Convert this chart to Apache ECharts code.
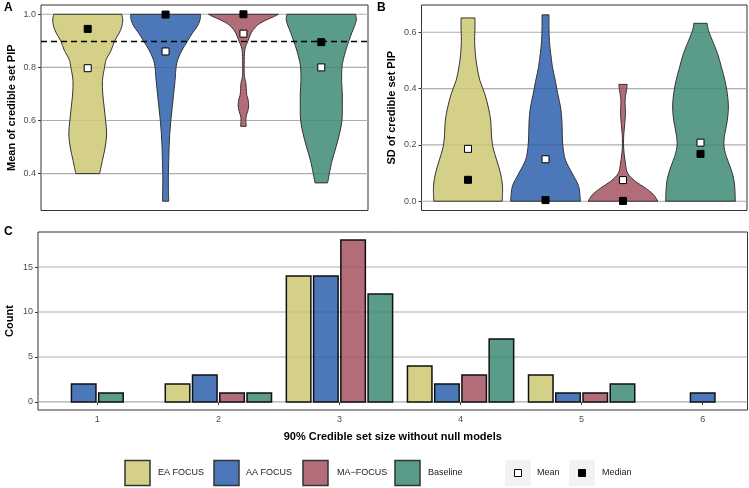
<!DOCTYPE html>
<html><head><meta charset="utf-8">
<script src="https://cdn.jsdelivr.net/npm/echarts@6/dist/echarts.min.js"></script>
<style>html,body{margin:0;padding:0;background:#fff}#c{width:749px;height:488px}</style>
</head><body><div id="c"></div>
<script>
// ---------- shared ----------
const methods = ['EA FOCUS', 'AA FOCUS', 'MA\u2212FOCUS', 'Baseline'];
const fills = ['rgba(206,200,115,0.85)', 'rgba(45,96,174,0.85)', 'rgba(164,84,98,0.85)', 'rgba(62,137,117,0.85)'];

// ---------- Panel A: mean of credible set PIP ----------
const ticksA = [0.4, 0.6, 0.8, 1.0];
const meanA = [0.797, 0.86, 0.927, 0.8];
const medianA = [0.945, 0.999, 1.0, 0.895];
const thresholdA = 0.9;
// violin outlines: y values and relative half-widths (1 = full violin width)
const vA_EA_y = [1.0, 0.978, 0.953, 0.93, 0.9, 0.865, 0.83, 0.8, 0.75, 0.7, 0.65, 0.6, 0.55, 0.5, 0.45, 0.4];
const vA_EA_w = [0.97, 1.0, 0.97, 0.9, 0.77, 0.67, 0.53, 0.48, 0.42, 0.43, 0.47, 0.51, 0.54, 0.5, 0.42, 0.34];
const vA_AA_y = [1.0, 0.978, 0.953, 0.93, 0.9, 0.865, 0.83, 0.8, 0.75, 0.7, 0.65, 0.6, 0.55, 0.5, 0.45, 0.4, 0.35, 0.296];
const vA_AA_w = [1.0, 0.98, 0.9, 0.77, 0.63, 0.47, 0.35, 0.3, 0.27, 0.23, 0.19, 0.15, 0.12, 0.1, 0.09, 0.08, 0.08, 0.09];
const vA_MA_y = [1.0, 0.99, 0.978, 0.965, 0.953, 0.93, 0.9, 0.878, 0.853, 0.8, 0.765, 0.74, 0.7, 0.68, 0.655, 0.634, 0.61, 0.578];
const vA_MA_w = [1.0, 0.85, 0.64, 0.46, 0.35, 0.22, 0.13, 0.06, 0.03, 0.02, 0.03, 0.07, 0.09, 0.13, 0.15, 0.12, 0.07, 0.08];
const vA_BL_y = [1.0, 0.978, 0.953, 0.93, 0.9, 0.865, 0.83, 0.8, 0.75, 0.7, 0.65, 0.6, 0.55, 0.5, 0.45, 0.4, 0.365];
const vA_BL_w = [0.98, 1.0, 0.94, 0.87, 0.79, 0.7, 0.63, 0.59, 0.58, 0.6, 0.6, 0.59, 0.52, 0.42, 0.31, 0.23, 0.18];

// ---------- Panel B: SD of credible set PIP ----------
const ticksB = [0.0, 0.2, 0.4, 0.6];
const meanB = [0.186, 0.149, 0.075, 0.208];
const medianB = [0.076, 0.004, 0.001, 0.168];
const vB_EA_y = [0.651, 0.618, 0.571, 0.524, 0.476, 0.429, 0.382, 0.335, 0.288, 0.241, 0.194, 0.147, 0.1, 0.053, 0.0];
const vB_EA_w = [0.2, 0.2, 0.19, 0.21, 0.26, 0.34, 0.48, 0.58, 0.65, 0.67, 0.71, 0.82, 0.93, 0.99, 0.98];
const vB_AA_y = [0.662, 0.618, 0.571, 0.524, 0.476, 0.429, 0.382, 0.335, 0.288, 0.241, 0.194, 0.147, 0.1, 0.053, 0.0];
const vB_AA_w = [0.1, 0.1, 0.11, 0.15, 0.2, 0.28, 0.35, 0.43, 0.47, 0.48, 0.5, 0.57, 0.76, 0.95, 1.0];
const vB_MA_y = [0.415, 0.394, 0.359, 0.312, 0.276, 0.241, 0.206, 0.171, 0.135, 0.1, 0.071, 0.047, 0.024, 0.0];
const vB_MA_w = [0.12, 0.1, 0.06, 0.07, 0.05, 0.025, 0.015, 0.03, 0.07, 0.13, 0.35, 0.64, 0.87, 1.0];
const vB_BL_y = [0.632, 0.606, 0.571, 0.524, 0.476, 0.429, 0.382, 0.335, 0.288, 0.241, 0.2, 0.159, 0.112, 0.065, 0.0];
const vB_BL_w = [0.19, 0.23, 0.34, 0.49, 0.6, 0.7, 0.77, 0.8, 0.77, 0.7, 0.67, 0.74, 0.88, 0.97, 1.0];

// ---------- Panel C: credible set size counts ----------
const sizes = [1, 2, 3, 4, 5, 6];
const countEA = [0, 2, 14, 4, 3, 0];
const countAA = [2, 3, 14, 2, 1, 1];
const countMA = [0, 1, 18, 3, 1, 0];
const countBL = [1, 1, 12, 7, 2, 0];
const ticksC = [0, 5, 10, 15];

// ---------- helpers ----------
const FONT = 'Liberation Sans, Arial, sans-serif';
const GRIDCOL = '#adadad';

function gridLines(gi, ticks, xref) {
  return {
    type: 'custom', xAxisIndex: gi, yAxisIndex: gi, z: 1, silent: true,
    data: ticks.map(t => [xref, t]), encode: { x: 0, y: 1 },
    renderItem(params, api) {
      const cs = params.coordSys;
      const y = api.coord([api.value(0), api.value(1)])[1];
      return { type: 'line', shape: { x1: cs.x, y1: y, x2: cs.x + cs.width, y2: y },
        style: { stroke: GRIDCOL, lineWidth: 1.1 } };
    }
  };
}
// smooth curve through pixel points (Catmull-Rom -> cubic bezier), used only for drawing the outline
function curve(pts) {
  let d = '';
  for (let i = 0; i < pts.length - 1; i++) {
    const p0 = pts[Math.max(0, i - 1)], p1 = pts[i], p2 = pts[i + 1], p3 = pts[Math.min(pts.length - 1, i + 2)];
    const c1 = [p1[0] + (p2[0] - p0[0]) / 6, p1[1] + (p2[1] - p0[1]) / 6];
    const c2 = [p2[0] - (p3[0] - p1[0]) / 6, p2[1] - (p3[1] - p1[1]) / 6];
    d += ' C' + c1[0].toFixed(2) + ',' + c1[1].toFixed(2) + ' ' + c2[0].toFixed(2) + ',' + c2[1].toFixed(2) + ' ' + p2[0].toFixed(2) + ',' + p2[1].toFixed(2);
  }
  return d;
}
function violin(gi, idx, ys, ws) {
  return {
    type: 'custom', xAxisIndex: gi, yAxisIndex: gi, z: 3, silent: true,
    data: [[idx + 1, ys[0]]], encode: { x: 0, y: 1 },
    renderItem(params, api) {
      const x = api.value(0);
      const right = ys.map((y, i) => api.coord([x + ws[i] * 0.45, y]));
      const left = ys.map((y, i) => api.coord([x - ws[i] * 0.45, y])).reverse();
      const d = 'M' + right[0][0].toFixed(2) + ',' + right[0][1].toFixed(2) + curve(right) +
        ' L' + left[0][0].toFixed(2) + ',' + left[0][1].toFixed(2) + curve(left) + ' Z';
      return { type: 'path', shape: { pathData: d },
        style: { fill: fills[idx], stroke: '#333', lineWidth: 1 } };
    }
  };
}
function markers(gi, vals, fill, extra) {
  const s = {
    type: 'scatter', xAxisIndex: gi, yAxisIndex: gi, z: 6, silent: true,
    symbol: 'rect', symbolSize: 7,
    itemStyle: { color: fill, borderColor: '#000', borderWidth: 1, opacity: 1 },
    data: vals.map((v, i) => [i + 1, v])
  };
  return Object.assign(s, extra || {});
}
function yAxisCfg(gi, min, max, ticks, name, gap, fmt) {
  return {
    gridIndex: gi, type: 'value', min, max,
    axisLine: { show: false },
    axisTick: { show: true, customValues: ticks, length: 3, lineStyle: { color: '#333', width: 1 } },
    axisLabel: { customValues: ticks, formatter: fmt, fontSize: 9, color: '#4d4d4d', margin: 5, fontFamily: FONT },
    splitLine: { show: false },
    name, nameLocation: 'middle', nameGap: gap, nameMoveOverlap: false,
    nameTextStyle: { fontWeight: 'bold', fontSize: 11, color: '#000', fontFamily: FONT }
  };
}
const hiddenX = (gi) => ({ gridIndex: gi, type: 'value', min: 0.4, max: 4.6,
  axisLine: { show: false }, axisTick: { show: false }, axisLabel: { show: false }, splitLine: { show: false } });

// bars: dodge among present groups (centered)
const counts = [countEA, countAA, countMA, countBL];
const barData = [];
sizes.forEach((s, i) => {
  const present = [];
  counts.forEach((c, m) => { if (c[i] > 0) present.push(m); });
  present.forEach((m, k) => barData.push([s, counts[m][i], k, present.length, m]));
});

const gridStyle = { show: true, borderColor: '#333', borderWidth: 1, backgroundColor: 'transparent',
  containLabel: false, outerBoundsMode: 'none' };

const option = {
  animation: false,
  textStyle: { fontFamily: FONT },
  grid: [
    Object.assign({ left: 41, top: 5, width: 327, height: 205.5 }, gridStyle),
    Object.assign({ left: 421.5, top: 5, width: 325.5, height: 205.5 }, gridStyle),
    Object.assign({ left: 38, top: 232, width: 709.5, height: 178 }, gridStyle)
  ],
  xAxis: [
    hiddenX(0), hiddenX(1),
    { gridIndex: 2, type: 'value', min: 0.51, max: 6.37,
      axisLine: { show: false },
      axisTick: { show: true, customValues: sizes, length: 3, lineStyle: { color: '#333' } },
      axisLabel: { customValues: sizes, fontSize: 9, color: '#4d4d4d', margin: 5, fontFamily: FONT },
      splitLine: { show: false },
      name: '90% Credible set size without null models', nameLocation: 'middle', nameGap: 21,
      nameMoveOverlap: false,
      nameTextStyle: { fontWeight: 'bold', fontSize: 11, color: '#000', fontFamily: FONT } }
  ],
  yAxis: [
    yAxisCfg(0, 0.261, 1.035, ticksA, 'Mean of credible set PIP', 24, v => v.toFixed(1)),
    yAxisCfg(1, -0.033, 0.697, ticksB, 'SD of credible set PIP', 24, v => v.toFixed(1)),
    yAxisCfg(2, -0.9, 18.9, ticksC, 'Count', 23, v => String(v))
  ],
  series: [
    gridLines(0, ticksA, 1), gridLines(1, ticksB, 1), gridLines(2, ticksC, 1),
    violin(0, 0, vA_EA_y, vA_EA_w), violin(0, 1, vA_AA_y, vA_AA_w),
    violin(0, 2, vA_MA_y, vA_MA_w), violin(0, 3, vA_BL_y, vA_BL_w),
    violin(1, 0, vB_EA_y, vB_EA_w), violin(1, 1, vB_AA_y, vB_AA_w),
    violin(1, 2, vB_MA_y, vB_MA_w), violin(1, 3, vB_BL_y, vB_BL_w),
    markers(0, meanA, '#fff', {
      markLine: { silent: true, symbol: 'none', label: { show: false },
        lineStyle: { type: [6, 4], color: '#000', width: 1.3 }, data: [{ yAxis: thresholdA }] }
    }),
    markers(0, medianA, '#000'),
    markers(1, meanB, '#fff'),
    markers(1, medianB, '#000'),
    {
      type: 'custom', xAxisIndex: 2, yAxisIndex: 2, z: 3, silent: true,
      data: barData, encode: { x: 0, y: 1 },
      renderItem(params, api) {
        const x = api.value(0), c = api.value(1), k = api.value(2), n = api.value(3), m = api.value(4);
        const cx = x + (k - (n - 1) / 2) * 0.225;
        const p0 = api.coord([cx - 0.10125, c]);
        const p1 = api.coord([cx + 0.10125, 0]);
        return { type: 'rect', shape: { x: p0[0], y: p0[1], width: p1[0] - p0[0], height: p1[1] - p0[1] },
          style: { fill: fills[m], stroke: '#111', lineWidth: 1.5 } };
      }
    }
  ],
  graphic: (function () {
    const g = [];
    const letter = (t, x, y) => ({ type: 'text', left: x, top: y,
      style: { text: t, font: 'bold 12px ' + FONT, fill: '#000' } });
    g.push(letter('A', 4, 2), letter('B', 377, 2), letter('C', 4, 226));
    const keyX = [125, 214, 303, 395];
    const txtX = [158, 246, 337, 428];
    methods.forEach((m, i) => {
      g.push({ type: 'rect', shape: { x: keyX[i], y: 460.5, width: 25, height: 25 },
        style: { fill: fills[i], stroke: '#333', lineWidth: 1.5 } });
      g.push({ type: 'text', x: txtX[i], y: 473,
        style: { text: m, font: '9px ' + FONT, fill: '#1a1a1a', verticalAlign: 'middle' } });
    });
    const statKeys = [[505, '#fff', 'Mean', 537], [569, '#000', 'Median', 602]];
    statKeys.forEach(([x, f, t, tx]) => {
      g.push({ type: 'rect', shape: { x: x, y: 460, width: 26, height: 26 }, style: { fill: '#f2f2f2' } });
      g.push({ type: 'rect', shape: { x: x + 9.5, y: 469.5, width: 7, height: 7 },
        style: { fill: f, stroke: '#000', lineWidth: 1 } });
      g.push({ type: 'text', x: tx, y: 473,
        style: { text: t, font: '9px ' + FONT, fill: '#1a1a1a', verticalAlign: 'middle' } });
    });
    return g;
  })()
};

const chart = echarts.init(document.getElementById('c'), null, { renderer: 'canvas' });
chart.setOption(option);
</script>
</body></html>
